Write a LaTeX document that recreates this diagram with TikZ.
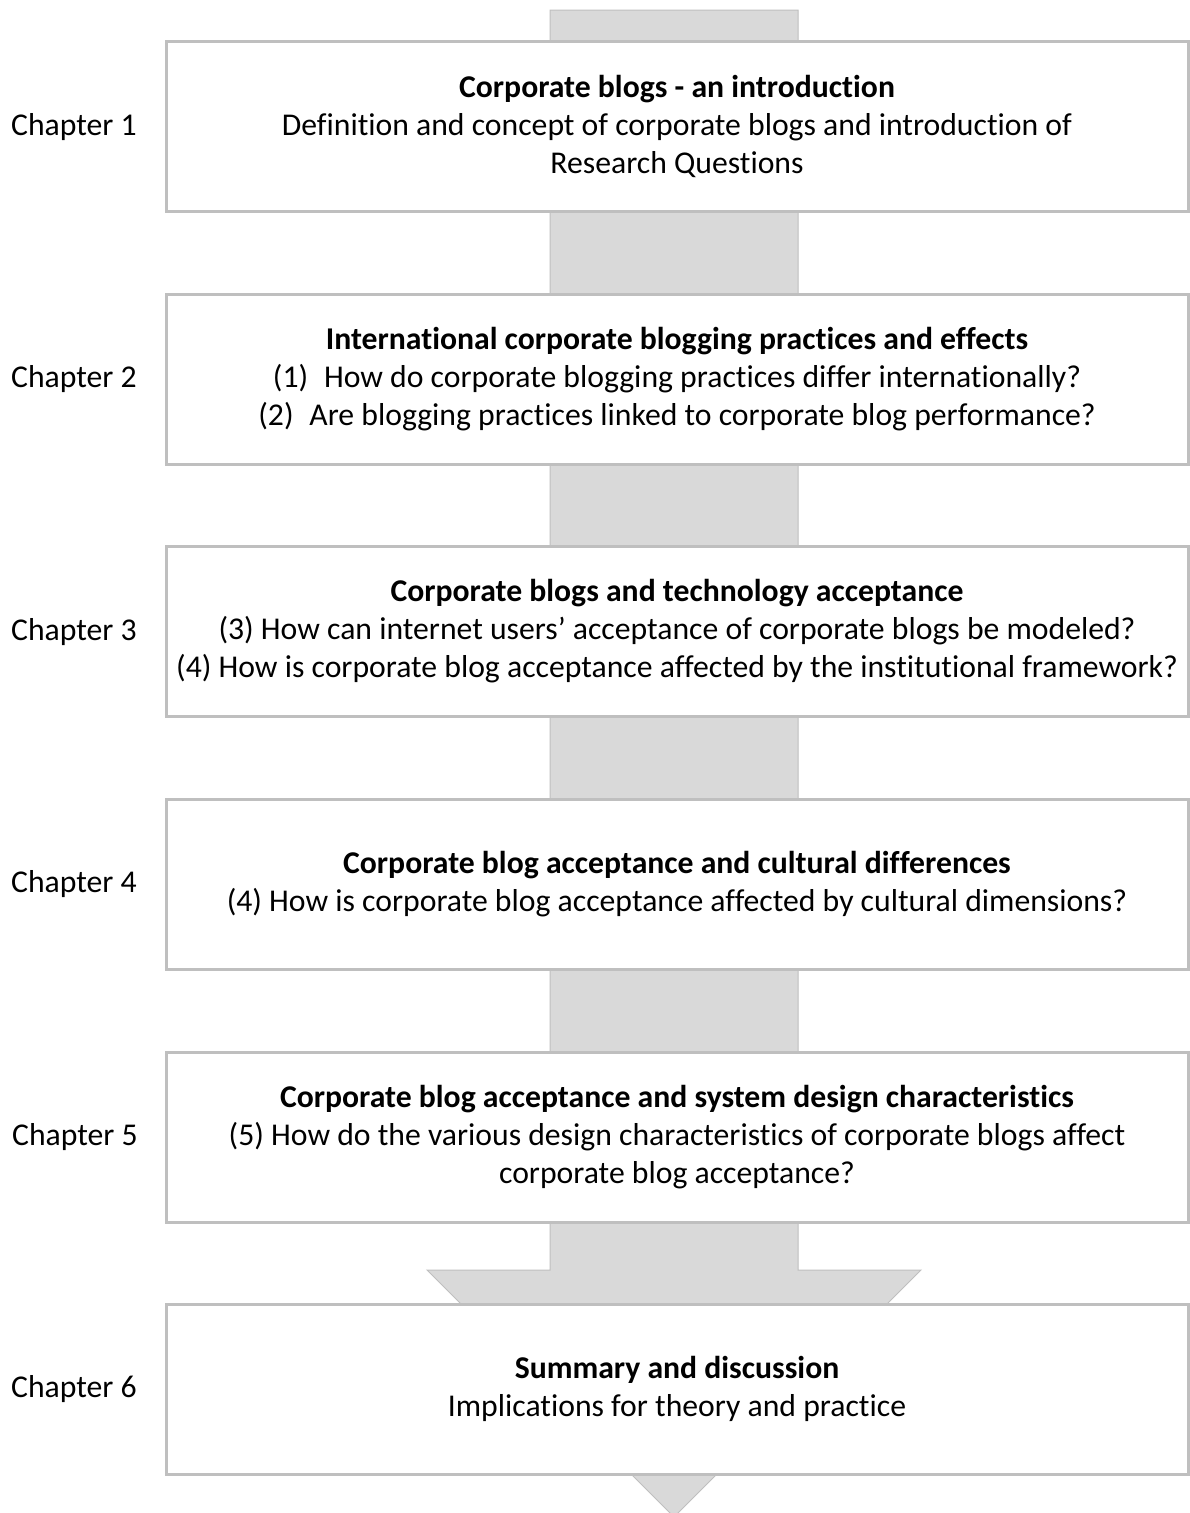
\documentclass[tikz,border=0pt]{standalone}
\usepackage{fontspec}
\setmainfont[Ligatures=NoCommon]{Carlito}
\begin{document}
\begin{tikzpicture}[x=1pt,y=1pt,
  chapbox/.style={draw=boxgray, line width=3pt, fill=white, minimum width=1022pt,
    minimum height=170pt, align=center, inner sep=0pt,
    font=\fontsize{31.7}{38}\selectfont},
  chaplabel/.style={font=\fontsize{31.7}{38}\selectfont, inner sep=0pt}]
\definecolor{boxgray}{HTML}{BFBFBF}
\definecolor{arrowfill}{HTML}{D9D9D9}
\useasboundingbox (0,0) rectangle (1190,-1513);
% large downward arrow running behind all boxes
\fill[arrowfill, draw=boxgray, line width=1pt]
  (550,-10) -- (798,-10) -- (798,-1270) -- (921,-1270) -- (674,-1517)
  -- (427,-1270) -- (550,-1270) -- cycle;
% chapter boxes
\node[chapbox] (b1) at (677,-126) {\textbf{Corporate blogs - an introduction}\\
  Definition and concept of corporate blogs and introduction of\\ Research Questions};
\node[chapbox] (b2) at (677,-379) {\textbf{International corporate blogging practices and effects}\\
  (1)\enspace How do corporate blogging practices differ internationally?\\
  (2)\enspace Are blogging practices linked to corporate blog performance?};
\node[chapbox] (b3) at (677,-631) {\textbf{Corporate blogs and technology acceptance}\\
  (3) How can internet users’ acceptance of corporate blogs be modeled?\\
  (4) How is corporate blog acceptance affected by the institutional framework?};
\node[chapbox] (b4) at (677,-884) {\textbf{Corporate blog acceptance and cultural differences}\\
  (4) How is corporate blog acceptance affected by cultural dimensions?};
\node[chapbox] (b5) at (677,-1137) {\textbf{Corporate blog acceptance and system design characteristics}\\
  (5) How do the various design characteristics of corporate blogs affect\\
  corporate blog acceptance?};
\node[chapbox] (b6) at (677,-1389) {\textbf{Summary and discussion}\\
  Implications for theory and practice};
% chapter labels
\node[chaplabel] (c1) at (74,-127) {Chapter 1};
\node[chaplabel] (c2) at (74,-379) {Chapter 2};
\node[chaplabel] (c3) at (74,-632) {Chapter 3};
\node[chaplabel] (c4) at (74,-884) {Chapter 4};
\node[chaplabel] (c5) at (75,-1137) {Chapter 5};
\node[chaplabel] (c6) at (74,-1389) {Chapter 6};
\end{tikzpicture}
\end{document}
